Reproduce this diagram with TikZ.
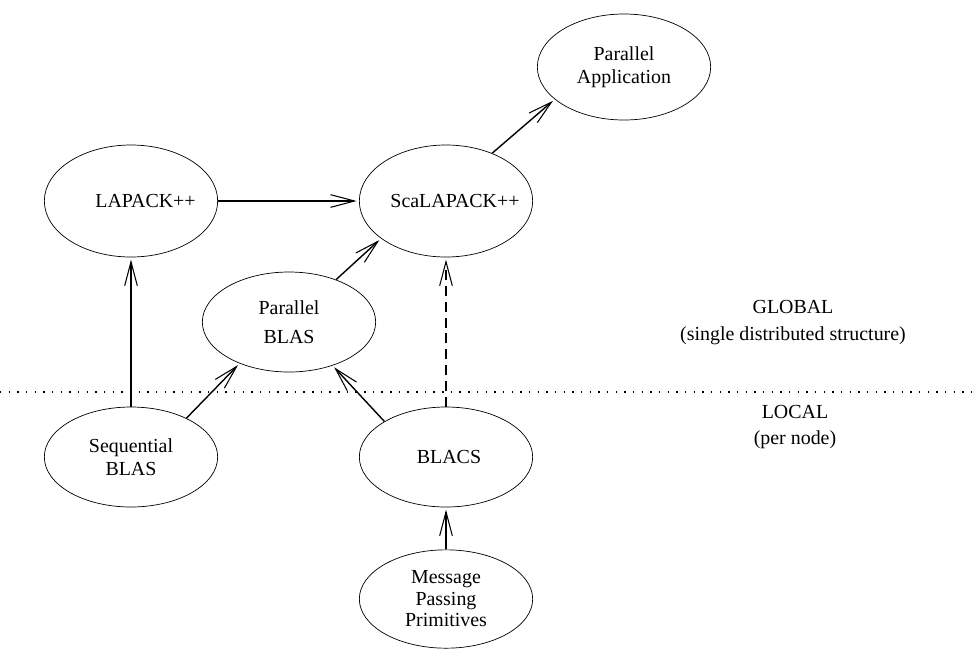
\documentclass[tikz,border=0pt]{standalone}
\usepackage{fontspec}
\setmainfont{Liberation Serif}
\usetikzlibrary{shapes.geometric,arrows.meta}
\tikzset{
  part/.style={ellipse, draw, line width=0.6pt, inner sep=0pt, minimum width=5.2cm, minimum height=#1,
    align=center, font=\fontsize{17}{20}\selectfont},
  note/.style={align=center, font=\fontsize{17}{23}\selectfont},
  link/.style={line width=1.2pt, -{Straight Barb[length=0.72cm,width=0.38cm,line width=0.9pt]}, shorten >=2pt},
}
\begin{document}
\begin{tikzpicture}[x=0.03cm,y=-0.03cm]
\useasboundingbox (0,0) rectangle (973,659);
% Draw the libraries
        \node[part=3.18cm] (app) at (624,67) {Parallel\\Application};
        \node[part=3.36cm] (lapack) at (131,201) {\makebox[0pt]{\hspace{0.87cm}LAPACK++}};
        \node[part=3.36cm] (scalapack) at (446,201) {\makebox[0pt]{\hspace{0.54cm}ScaLAPACK++}};
        \node[part=3cm] (pblas) at (289,322) {Parallel\\[5pt]BLAS};
        \node[part=3cm] (sblas) at (131,457) {Sequential\\BLAS};
        \node[part=3cm] (blacs) at (446,457) {\makebox[0pt]{\hspace{0.18cm}BLACS}};
        \node[part=2.95cm, font=\fontsize{17}{18.4}\selectfont] (mpp) at (446,599) {Message\\Passing\\Primitives};
% Global / local split
        \draw[line width=1.1pt, dash pattern=on 1.2pt off 6.2pt] (0,392) -- (973,392);
        \node[note] (global) at (793,323) {GLOBAL\\(single distributed structure)};
        \node[note] (local) at (795,427) {LOCAL\\(per node)};
% Draw arrows
        \draw[link] (sblas) -- (lapack);
        \draw[link] (lapack) -- (scalapack);
        \draw[link] (scalapack.46) -- (app.205);
        \draw[link] (pblas.42) -- (scalapack.210);
        \draw[link] (sblas.35) -- (pblas.220);
        \draw[link] (blacs.150) -- (pblas.315);
        \draw[link, dash pattern=on 8.5pt off 5pt] (blacs) -- (scalapack);
        \draw[link] (mpp) -- (blacs);
\end{tikzpicture}
\end{document}
